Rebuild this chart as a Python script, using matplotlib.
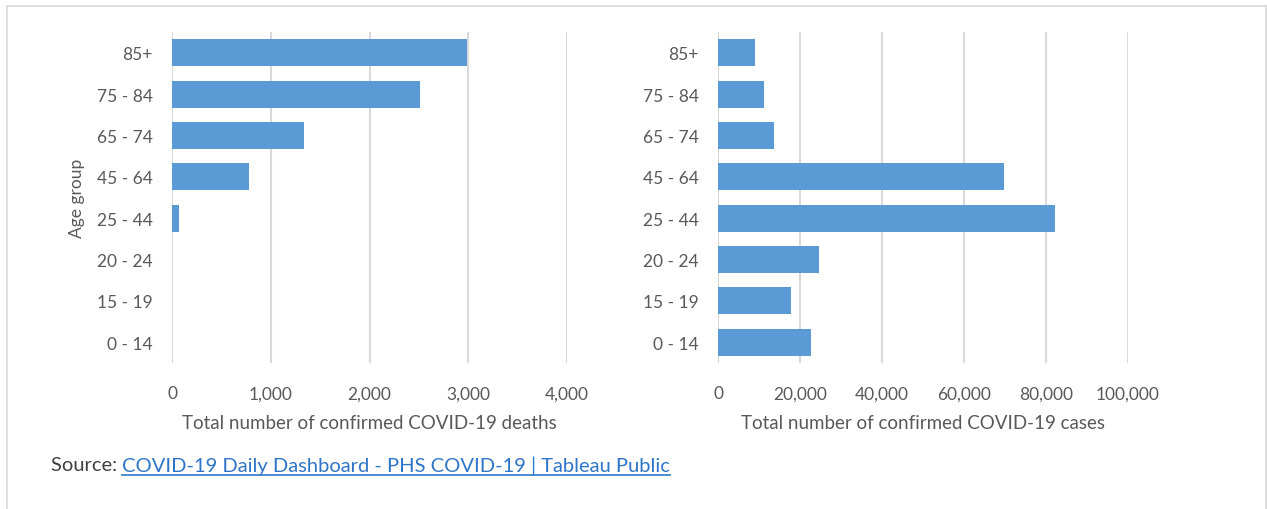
import numpy as np
import matplotlib
matplotlib.use('Agg')
import matplotlib.pyplot as plt
from matplotlib.lines import Line2D
from matplotlib.ticker import FuncFormatter

plt.rcParams['font.family'] = ['Lato', 'DejaVu Sans']

# data
age_groups = ['0 - 14', '15 - 19', '20 - 24', '25 - 44', '45 - 64', '65 - 74', '75 - 84', '85+']
deaths = [0, 0, 0, 70, 778, 1334, 2516, 2990]
cases = [22800, 17800, 24600, 82300, 69800, 13700, 11200, 9000]

death_ticks = [0, 1000, 2000, 3000, 4000]
case_ticks = [0, 20000, 40000, 60000, 80000, 100000]

bar_color = '#5B9BD5'
grid_color = '#D9D9D9'
text_color = '#595959'

W, H = 1267, 510
fig = plt.figure(figsize=(W / 100, H / 100), dpi=100)

comma = FuncFormatter(lambda v, p: '{:,.0f}'.format(v))


def style_axes(ax, ticks, xlabel):
    y = np.arange(len(age_groups))
    ax.set_ylim(-0.5, len(age_groups) - 0.5)
    ax.set_xlim(ticks[0], ticks[-1])
    ax.set_xticks(ticks)
    ax.xaxis.set_major_formatter(comma)
    ax.set_yticks(y)
    ax.set_yticklabels(age_groups)
    for s in ax.spines.values():
        s.set_visible(False)
    ax.grid(axis='x', color=grid_color, linewidth=1.5)
    ax.set_axisbelow(True)
    ax.tick_params(axis='both', length=0, labelsize=12.5, colors=text_color)
    ax.tick_params(axis='y', pad=14)
    ax.tick_params(axis='x', pad=16)
    ax.set_xlabel(xlabel, fontsize=13.5, color=text_color, labelpad=9)


ax1 = fig.add_axes([172 / W, 1 - 364 / H, (567 - 172) / W, (364 - 33) / H])
ax1.barh(np.arange(len(age_groups)), deaths, height=0.65, color=bar_color)
style_axes(ax1, death_ticks, 'Total number of confirmed COVID-19 deaths')
ax1.set_ylabel('Age group', fontsize=12.5, color=text_color, labelpad=8)

ax2 = fig.add_axes([718 / W, 1 - 364 / H, (1128 - 718) / W, (364 - 33) / H])
ax2.barh(np.arange(len(age_groups)), cases, height=0.65, color=bar_color)
style_axes(ax2, case_ticks, 'Total number of confirmed COVID-19 cases')

# thin frame around the chart area
frame_kw = dict(transform=fig.transFigure, color=grid_color, linewidth=1.2)
fig.add_artist(Line2D([7 / W, 7 / W], [0, 1 - 7 / H], **frame_kw))
fig.add_artist(Line2D([7 / W, 1], [1 - 7 / H, 1 - 7 / H], **frame_kw))
fig.add_artist(Line2D([1266 / W, 1266 / W], [0, 1 - 7 / H], **frame_kw))

# source line with link
src = fig.text(51 / W, 1 - 466 / H, 'Source: ', fontsize=14.5, color='#404040', va='center')
fig.canvas.draw()
r = fig.canvas.get_renderer()
bb = src.get_window_extent(r)
link = fig.text(bb.x1 / W, 1 - 466 / H, 'COVID-19 Daily Dashboard - PHS COVID-19 | Tableau Public',
                fontsize=14.5, color='#2E75C8', va='center')
fig.canvas.draw()
lb = link.get_window_extent(r)
fig.add_artist(Line2D([lb.x0 / W, lb.x1 / W], [(lb.y0 - 1) / H, (lb.y0 - 1) / H],
                      transform=fig.transFigure, color='#2E75C8', linewidth=1.2))

fig.savefig('out.png', dpi=100)
